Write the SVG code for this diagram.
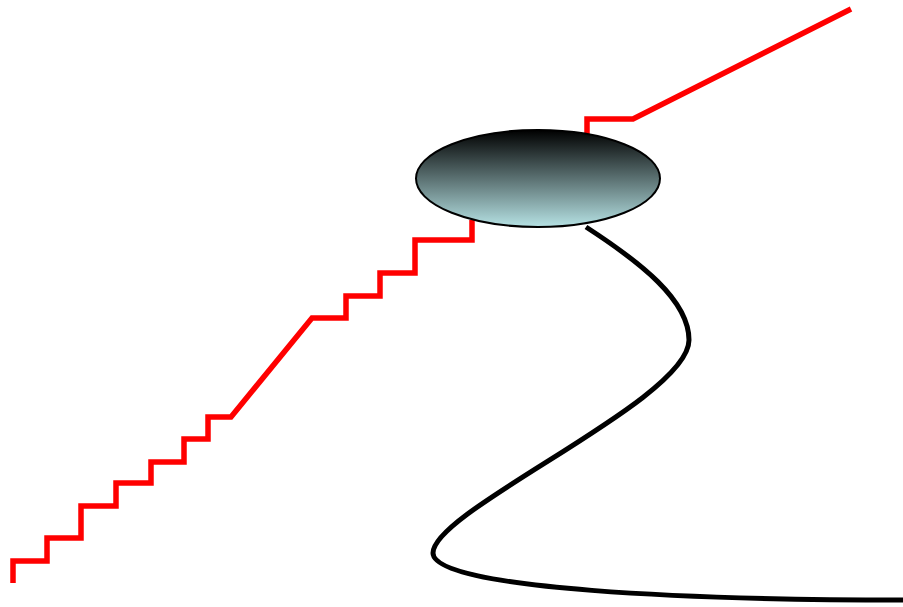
<svg xmlns="http://www.w3.org/2000/svg" width="903" height="607" viewBox="0 0 903 607">
<defs>
<linearGradient id="g" x1="0" y1="0" x2="0" y2="1">
<stop offset="0" stop-color="#000000"/>
<stop offset="1" stop-color="#b6e2e4"/>
</linearGradient>
</defs>
<style>
.red{fill:none;stroke:#ff0000;stroke-width:5.5;stroke-linejoin:miter}
.blk{fill:none;stroke:#000;stroke-width:5}
</style>
<rect width="903" height="607" fill="#fff"/>
<g id="connectors">
<path class="red" d="M13,583 V561 H47 V538 H81 V506 H116 V483 H151 V462 H184 V439 H208 V417 H231 L312,318 H346 V296 H380 V273 H415 V240 H472 V220"/>
<path class="red" d="M587,134 V119 H633 L851,9"/>
<path class="blk" d="M586,227 C640,262 689,300 689,340 C689,400 433,510 433,553 C433,590 700,600 903,600"/>
</g>
<g id="node1">
<ellipse cx="538" cy="178.5" rx="122" ry="48.5" fill="url(#g)" stroke="#000" stroke-width="2"/>
</g>
</svg>
